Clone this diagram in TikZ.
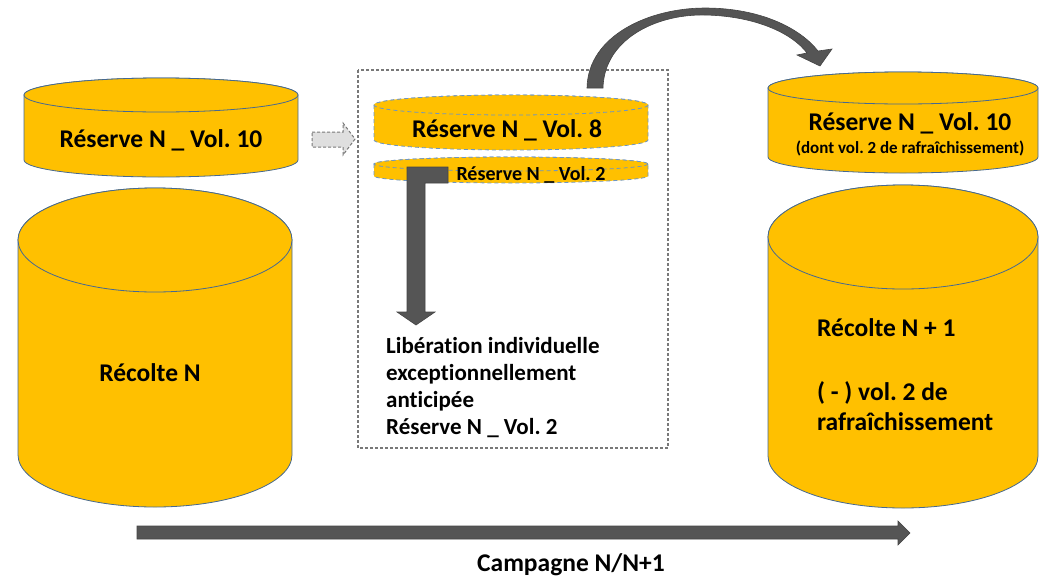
\documentclass[tikz,border=0pt]{standalone}
\usepackage{fontspec}
\setmainfont{Carlito}[Ligatures=NoCommon]
\usepackage{tikz}
\usetikzlibrary{arrows.meta,positioning,calc}
\definecolor{stockgold}{RGB}{255,192,0}
\definecolor{stockedge}{RGB}{70,105,145}
\definecolor{stockdash}{RGB}{110,150,195}
\definecolor{arrowgray}{RGB}{85,85,85}
\definecolor{boxgray}{RGB}{120,120,120}
\frenchspacing
% cylinder: [style] cx, rx, top y, bottom y, ry
\newcommand{\drum}[6][]{%
  \filldraw[drum,#1] (#2-#3,#4) -- (#2-#3,#5) arc[start angle=180,end angle=0,x radius=#3,y radius=#6]
    -- (#2+#3,#4) arc[start angle=0,end angle=-180,x radius=#3,y radius=#6] -- cycle;
  \draw[drum,#1] (#2,#4) ellipse[x radius=#3,y radius=#6];}
\begin{document}
\begin{tikzpicture}[x=1pt, y=-1pt, every node/.style={font=\bfseries\fontsize{25.5}{30}\selectfont, inner sep=0pt},
  drum/.style={fill=stockgold, draw=stockedge, line width=0.8pt},
  dashdrum/.style={draw=stockdash, dash pattern=on 4pt off 3pt},
  blockarrow/.style={fill=arrowgray, draw=arrowgray!80!black, line width=0.6pt},
  small/.style={font=\bfseries\fontsize{20}{24}\selectfont},
  tiny/.style={font=\bfseries\fontsize{17}{20}\selectfont}]
\useasboundingbox (0,0) rectangle (1039,579);
% Left: Recolte N
\drum{161}{137}{95}{160}{17}
\node (resL) at (161,140) {Réserve N \_ Vol. 10};
\drum{155}{137}{240}{455}{52}
\node (recL) at (150,373) {Récolte N};
% Middle box
\filldraw[fill=white, draw=boxgray, line width=1.4pt, dash pattern=on 3pt off 2pt] (358,70) rectangle (668,448);
\drum[dashdrum]{511}{137}{105}{140}{10}
\node (resM) at (507,130) {Réserve N \_ Vol. 8};
\drum[dashdrum]{511}{137}{164}{176}{7}
\node[small] (resMtwo) at (531,175) {Réserve N \_ Vol. 2};
\node[font=\bfseries\fontsize{23}{27}\selectfont, align=left, anchor=west] (lib) at (386,388) {Libération individuelle\\exceptionnellement\\anticipée\\Réserve N \_ Vol. 2};
% Right: Recolte N+1
\drum{903}{135}{88}{157}{16}
\node (resR) at (910,123) {Réserve N \_ Vol. 10};
\node[tiny] (resRnote) at (910,148) {(dont vol. 2 de rafraîchissement)};
\drum{903}{135}{237}{456}{52}
\node[align=left, anchor=north west] (recR) at (817,318) {Récolte N + 1\\[34pt]( - ) vol. 2 de\\rafraîchissement};
% Arrows
\filldraw[fill=gray!25, draw=boxgray, line width=1pt, dash pattern=on 3pt off 2pt]
  (312,132) -- (343,132) -- (343,123) -- (355,139) -- (343,155) -- (343,147) -- (312,147) -- cycle;
\filldraw[blockarrow] (448,167) -- (407,167) -- (407,312) -- (397,312) -- (416,325) -- (435,312)
  -- (425,312) -- (425,183) -- (448,183) -- cycle;
\filldraw[blockarrow] (587,88) .. controls (588,35) and (650,8) .. (705,8) .. controls (760,8) and (800,28) .. (818,51)
  -- (832,49) -- (820,66) -- (797,55) -- (807,53) .. controls (792,33) and (755,16) .. (705,15)
  .. controls (655,14) and (604,40) .. (603,88) -- cycle;
\filldraw[blockarrow] (137,526) -- (898,526) -- (898,521) -- (910,533) -- (898,545) -- (898,539) -- (137,539) -- cycle;
\node (camp) at (571,565) {Campagne N/N+1};
\end{tikzpicture}
\end{document}
